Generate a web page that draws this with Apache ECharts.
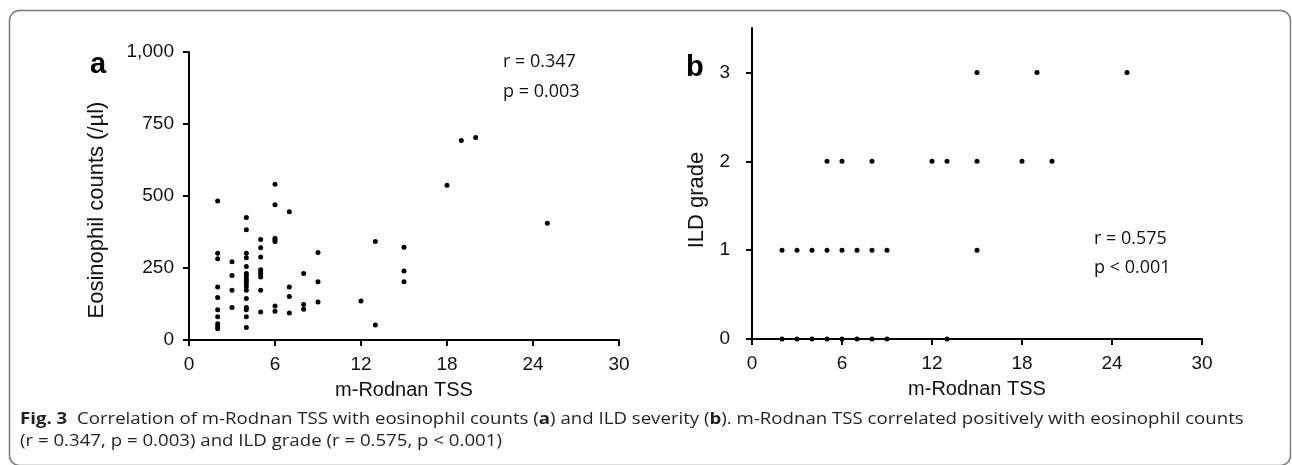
<!DOCTYPE html>
<html>
<head>
<meta charset="utf-8">
<script src="https://cdn.jsdelivr.net/npm/echarts@6/dist/echarts.min.js"></script>
<style>
html, body { margin: 0; padding: 0; background: #fff; }
#main { width: 1292px; height: 465px; }
</style>
</head>
<body>
<div id="main"></div>
<script>
// panel a : m-Rodnan TSS vs eosinophil counts
var tssA = [2,2,2,2,2,2,2,2,2,2,
            3,3,3,3,
            4,4,4,4,4,4,4,4,4,4,4,4,4,4,4,4,4,
            5,5,5,5,5,5,5,5,5,
            6,6,6,6,6,6,6,
            7,7,7,7,
            8,8,8,
            9,9,9,
            12,13,13,15,15,15,18,19,20,25];
var eosA = [483,301,282,184,148,105,81,56,47,39,
            272,224,173,113,
            425,383,301,286,255,231,223,213,205,198,186,173,144,113,105,81,43,
            349,320,288,244,236,229,219,173,97,
            541,470,353,348,342,118,100,
            445,184,151,94,
            231,123,107,
            304,202,132,
            135,342,52,322,240,202,537,693,703,405];

// panel b : m-Rodnan TSS vs ILD grade
var tssB = [15,19,25,
            5,6,8,12,13,15,18,20,
            2,3,4,5,6,7,8,9,15,
            2,3,4,5,6,7,8,9,13];
var ildB = [3,3,3,
            2,2,2,2,2,2,2,2,
            1,1,1,1,1,1,1,1,1,
            0,0,0,0,0,0,0,0,0];

var yTicksB = [0,1,2,3];

var statsA = ['r = 0.347', 'p = 0.003'];
var statsB = ['r = 0.575', 'p < 0.001'];
var xTitle = 'm-Rodnan TSS';
var caption1 = 'Correlation of m-Rodnan TSS with eosinophil counts ({b|a}) and ILD severity ({b|b}). m-Rodnan TSS correlated positively with eosinophil counts';
var caption2 = '(r = 0.347, p = 0.003) and ILD grade (r = 0.575, p < 0.001)';

function pairs(xs, ys) {
    var out = [];
    for (var i = 0; i < xs.length; i++) out.push([xs[i], ys[i]]);
    return out;
}

var axisFont = { fontFamily: 'Liberation Sans', fontSize: 19, color: '#111' };
var lineStyle = { color: '#000', width: 2 };

function xAxisFor(idx) {
    return {
        gridIndex: idx, type: 'value', min: 0, max: 30, interval: 6,
        name: xTitle, nameLocation: 'middle', nameGap: 40,
        nameTextStyle: { fontFamily: 'Liberation Sans', fontSize: 20, color: '#111' },
        axisLine: { show: true, onZero: false, lineStyle: lineStyle },
        axisTick: { show: true, length: 6, lineStyle: lineStyle },
        axisLabel: Object.assign({ margin: 15 }, axisFont),
        splitLine: { show: false }
    };
}

// caption squeezed to the width of the original line
var capFont = '16px "Open Sans"';
var ctx = document.createElement('canvas').getContext('2d');
ctx.font = capFont;
var plain1 = 'Fig. 3  ' + caption1.replace(/\{b\|(.)\}/g, '$1');
var capScale = 1220 / ctx.measureText(plain1).width;

var myChart = echarts.init(document.getElementById('main'));

var option = {
    backgroundColor: '#fff',
    animation: false,
    grid: [
        { left: 189, top: 52, width: 430, height: 288 },
        { left: 752, top: 28, width: 450, height: 311 }
    ],
    xAxis: [xAxisFor(0), xAxisFor(1)],
    yAxis: [
        {
            gridIndex: 0, type: 'value', min: 0, max: 1000, interval: 250,
            axisLine: { show: true, lineStyle: lineStyle },
            axisTick: { show: true, length: 6, lineStyle: lineStyle },
            axisLabel: Object.assign({
                margin: 15,
                formatter: function (v) { return v.toLocaleString('en-US'); }
            }, axisFont),
            splitLine: { show: false }
        },
        {
            gridIndex: 1, type: 'value', min: 0, max: 3.5,
            axisLine: { show: true, lineStyle: lineStyle },
            axisTick: { show: true, length: 6, lineStyle: lineStyle, customValues: yTicksB },
            axisLabel: Object.assign({ margin: 22, customValues: yTicksB }, axisFont),
            splitLine: { show: false }
        }
    ],
    series: [
        {
            type: 'scatter', xAxisIndex: 0, yAxisIndex: 0,
            symbol: 'circle', symbolSize: 5,
            itemStyle: { color: '#000', opacity: 1 },
            data: pairs(tssA, eosA)
        },
        {
            type: 'scatter', xAxisIndex: 1, yAxisIndex: 1,
            symbol: 'circle', symbolSize: 5,
            itemStyle: { color: '#000', opacity: 1 },
            data: pairs(tssB, ildB)
        }
    ],
    graphic: [
        // frame
        { type: 'rect', shape: { x: 9.5, y: 10.5, width: 1281, height: 455, r: 10 },
          style: { fill: 'none', stroke: '#7a7a7a', lineWidth: 1.5 }, silent: true },
        // panel letters
        { type: 'text', x: 90, y: 50, style: { text: 'a', font: 'bold 29px "Liberation Sans"', fill: '#000', verticalAlign: 'alphabetic' } },
        { type: 'text', x: 686, y: 53, style: { text: 'b', font: 'bold 29px "Liberation Sans"', fill: '#000', verticalAlign: 'alphabetic' } },
        // y axis titles
        { type: 'text', x: 97, y: 210, rotation: Math.PI / 2,
          style: { text: 'Eosinophil counts (/µl)', font: '22px "Liberation Sans"', fill: '#111', align: 'center', verticalAlign: 'middle' } },
        { type: 'text', x: 697, y: 200, rotation: Math.PI / 2,
          style: { text: 'ILD grade', font: '22px "Liberation Sans"', fill: '#111', align: 'center', verticalAlign: 'middle' } },
        // stats
        { type: 'text', x: 503, y: 62, style: { text: statsA[0], font: '18px "Open Sans"', fill: '#111', verticalAlign: 'middle' } },
        { type: 'text', x: 503, y: 92, style: { text: statsA[1], font: '18px "Open Sans"', fill: '#111', verticalAlign: 'middle' } },
        { type: 'text', x: 1094, y: 239, style: { text: statsB[0], font: '18px "Open Sans"', fill: '#111', verticalAlign: 'middle' } },
        { type: 'text', x: 1094, y: 268, style: { text: statsB[1], font: '18px "Open Sans"', fill: '#111', verticalAlign: 'middle' } },
        // caption
        { type: 'text', x: 20, y: 419, scaleX: capScale,
          style: { text: '{f|Fig. 3}  ' + caption1, font: capFont, fill: '#231f20', verticalAlign: 'middle',
                   rich: { f: { font: 'bold 16px "Open Sans"', fill: '#231f20' },
                           b: { font: 'bold 16px "Open Sans"', fill: '#231f20' } } } },
        { type: 'text', x: 20, y: 441, scaleX: capScale,
          style: { text: caption2, font: capFont, fill: '#231f20', verticalAlign: 'middle' } }
    ]
};

myChart.setOption(option);
</script>
</body>
</html>
